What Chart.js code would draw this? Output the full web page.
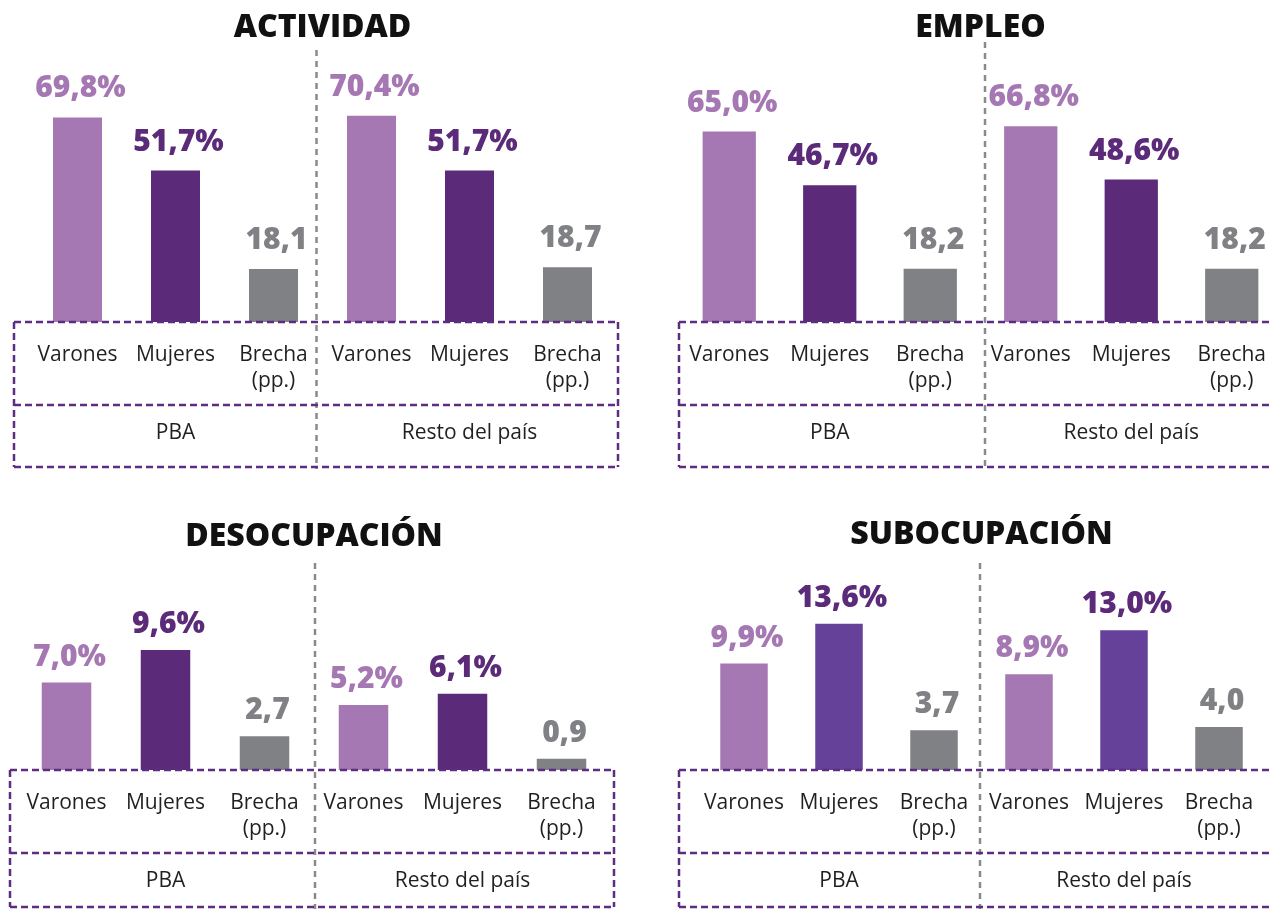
<!DOCTYPE html>
<html>
<head>
<meta charset="utf-8">
<script src="https://cdn.jsdelivr.net/npm/chart.js@4.4.1/dist/chart.umd.min.js"></script>
<style>
  html, body { margin: 0; padding: 0; background: #fff; width: 1272px; height: 910px; overflow: hidden; position: relative; }
  canvas { position: absolute; display: block; }
</style>
</head>
<body>
<canvas id="c1" width="640" height="471" style="left:0;top:0"></canvas>
<canvas id="c2" width="650" height="471" style="left:650px;top:0"></canvas>
<canvas id="c3" width="640" height="410" style="left:0;top:500px"></canvas>
<canvas id="c4" width="650" height="410" style="left:650px;top:500px"></canvas>
<script>
// ---- Data ----
const categoryLabels = ['Varones', 'Mujeres', ['Brecha', '(pp.)']];
const groupLabels = ['PBA', 'Resto del país'];
const panelTitles = ['ACTIVIDAD', 'EMPLEO', 'DESOCUPACIÓN', 'SUBOCUPACIÓN'];

const actividadPBA   = [69.8, 51.7, 18.1];
const actividadResto = [70.4, 51.7, 18.7];
const empleoPBA      = [65.0, 46.7, 18.2];
const empleoResto    = [66.8, 48.6, 18.2];
const desocupPBA     = [7.0, 9.6, 2.7];
const desocupResto   = [5.2, 6.1, 0.9];
const subocupPBA     = [9.9, 13.6, 3.7];
const subocupResto   = [8.9, 13.0, 4.0];

// ---- Styles ----
const FONT = '"Open Sans", "Noto Sans", sans-serif';
const C_VAR = '#a678b3';
const C_MUJ = '#5b2a79';
const C_MUJ4 = '#65419a';
const C_BRE = '#808184';
const LABEL_COLORS = [C_VAR, '#5b2a79', C_BRE];

const decoPlugin = {
  id: 'deco',
  afterDraw(chart, args, o) {
    const { ctx, chartArea } = chart;
    const x = chart.scales.x, x2 = chart.scales.x2;
    const left = chartArea.left + o.boxLeft, right = chartArea.right + o.boxRight;
    const top = chartArea.bottom, mid = x.bottom, bottom = x2.bottom;
    const divX = (x.getPixelForValue(2) + x.getPixelForValue(3)) / 2 + o.divOffset;
    ctx.save();
    ctx.lineWidth = 2.5;
    ctx.strokeStyle = '#8a8a8c';
    ctx.setLineDash([6, 5]);
    ctx.beginPath(); ctx.moveTo(divX, o.divTop); ctx.lineTo(divX, bottom + 2); ctx.stroke();
    ctx.strokeStyle = '#5c2d82';
    ctx.setLineDash([7, 4]);
    [top, mid, bottom].forEach(y => { ctx.beginPath(); ctx.moveTo(left, y); ctx.lineTo(right, y); ctx.stroke(); });
    [left, right].forEach(xx => { ctx.beginPath(); ctx.moveTo(xx, top); ctx.lineTo(xx, bottom); ctx.stroke(); });
    ctx.restore();
  }
};

const valueLabels = {
  id: 'valueLabels',
  afterDatasetsDraw(chart, args, o) {
    const ctx = chart.ctx;
    const meta = chart.getDatasetMeta(0);
    const data = chart.data.datasets[0].data;
    ctx.save();
    ctx.font = '800 30px ' + FONT;
    ctx.textAlign = 'center';
    ctx.textBaseline = 'alphabetic';
    meta.data.forEach((bar, i) => {
      const k = i % 3;
      const txt = data[i].toFixed(1).replace('.', ',') + (k === 2 ? '' : '%');
      ctx.fillStyle = LABEL_COLORS[k];
      ctx.fillText(txt, bar.x + 3, bar.y - o.gap);
    });
    ctx.restore();
  }
};

function makeChart(id, title, pba, resto, cfg) {
  const labels = [...categoryLabels, ...categoryLabels];
  const values = [...pba, ...resto];
  const colors = [C_VAR, cfg.mujColor, C_BRE, C_VAR, cfg.mujColor, C_BRE];
  return new Chart(document.getElementById(id), {
    type: 'bar',
    data: {
      labels: labels,
      datasets: [{ data: values, backgroundColor: colors, borderWidth: 0,
                   barPercentage: cfg.barPct, categoryPercentage: 1 }]
    },
    plugins: [decoPlugin, valueLabels],
    options: {
      responsive: false,
      animation: false,
      layout: { padding: cfg.pad },
      plugins: {
        legend: { display: false },
        tooltip: { enabled: false },
        title: {
          display: true, text: title, color: '#111',
          font: { family: FONT, size: 32, weight: '800', lineHeight: 1.2 },
          padding: cfg.titlePad
        },
        deco: cfg.deco,
        valueLabels: { gap: cfg.gap }
      },
      scales: {
        y: { display: false, min: 0, max: cfg.ymax },
        x: {
          position: 'bottom', weight: 0, offset: true,
          grid: { display: false }, border: { display: false },
          ticks: { color: '#231f20', padding: 12, maxRotation: 0, autoSkip: false,
                   font: { family: FONT, size: 21, weight: '500', lineHeight: 1.25 } },
          afterFit: s => { s.height = 83; }
        },
        x2: {
          type: 'category', labels: groupLabels, position: 'bottom', weight: 1, offset: true,
          grid: { display: false }, border: { display: false },
          ticks: { color: '#231f20', padding: 7, maxRotation: 0, autoSkip: false,
                   font: { family: FONT, size: 21, weight: '500', lineHeight: 1.25 } },
          afterFit: s => { s.height = cfg.x2h; }
        }
      }
    }
  });
}

makeChart('c1', panelTitles[0], actividadPBA, actividadResto, {
  mujColor: C_MUJ, barPct: 0.5, ymax: 80, gap: 20, x2h: 62,
  pad: { left: 28.5, right: 23.5, top: 0, bottom: 4 },
  titlePad: { top: 9, bottom: 40.2 },
  deco: { boxLeft: -14.5, boxRight: 1.5, divOffset: -6, divTop: 50 }
});
makeChart('c2', panelTitles[1], empleoPBA, empleoResto, {
  mujColor: C_MUJ, barPct: 0.53, ymax: 80, gap: 20, x2h: 62,
  pad: { left: 29, right: 18, top: 0, bottom: 4 },
  titlePad: { top: 9, bottom: 40.2 },
  deco: { boxLeft: 0, boxRight: 0, divOffset: 4.5, divTop: 42 }
});
makeChart('c3', panelTitles[2], desocupPBA, desocupResto, {
  mujColor: C_MUJ, barPct: 0.5, ymax: 12, gap: 17, x2h: 54,
  pad: { left: 17, right: 29, top: 0, bottom: 3 },
  titlePad: { top: 17.8, bottom: 63.8 },
  deco: { boxLeft: -7, boxRight: 3, divOffset: 1, divTop: 63 }
});
makeChart('c4', panelTitles[3], subocupPBA, subocupResto, {
  mujColor: C_MUJ4, barPct: 0.5, ymax: 16, gap: 17, x2h: 54,
  pad: { left: 46.5, right: 33.5, top: 0, bottom: 3 },
  titlePad: { top: 15.8, bottom: 43.8 },
  deco: { boxLeft: -17.5, boxRight: 10, divOffset: -1.5, divTop: 63 }
});
</script>
</body>
</html>
